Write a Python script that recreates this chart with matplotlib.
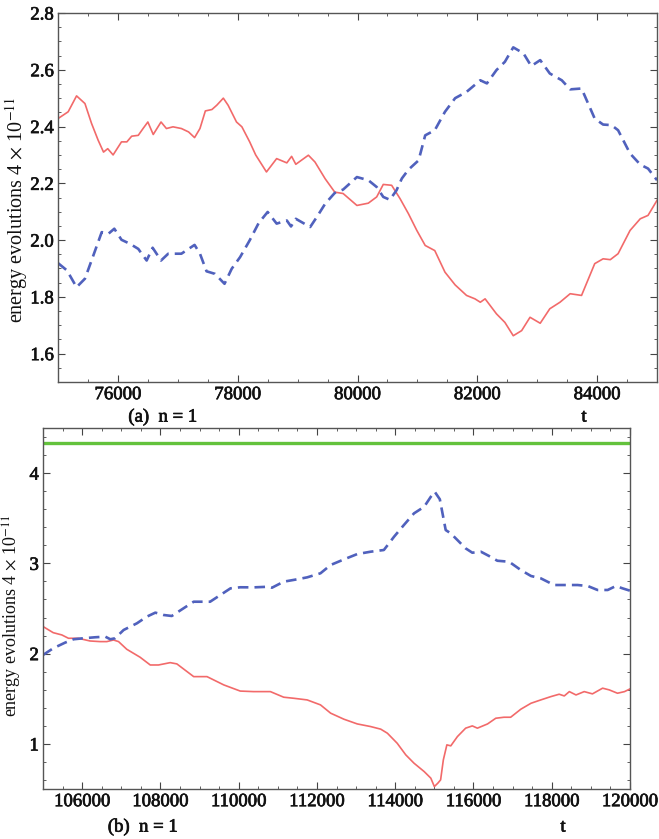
import matplotlib.pyplot as plt
import matplotlib.patheffects as pe
from matplotlib.ticker import MultipleLocator, FormatStrFormatter

plt.rcParams['font.family'] = ['Liberation Serif', 'DejaVu Serif']
plt.rcParams['mathtext.fontset'] = 'stix'

# panel (a): t in [75000, 85000]
t_a_red = [75000, 75170, 75310, 75450, 75560, 75670, 75760, 75830, 75920, 76060,
           76150, 76230, 76340, 76420, 76500, 76590, 76720, 76810, 76920, 77060,
           77180, 77280, 77370, 77460, 77570, 77650, 77760, 77840, 77980, 78070,
           78200, 78300, 78480, 78650, 78820, 78900, 78970, 79180, 79290, 79460,
           79620, 79760, 79990, 80180, 80320, 80430, 80570, 80710, 80850, 80990,
           81130, 81290, 81460, 81630, 81820, 81960, 82050, 82130, 82320, 82460,
           82600, 82740, 82880, 83050, 83210, 83380, 83550, 83740, 83960, 84100,
           84220, 84350, 84550, 84720, 84850, 85000]
e_a_red = [2.428, 2.452, 2.508, 2.481, 2.411, 2.352, 2.310, 2.322, 2.300, 2.346,
           2.346, 2.366, 2.369, 2.393, 2.416, 2.372, 2.416, 2.393, 2.399, 2.393,
           2.381, 2.361, 2.393, 2.455, 2.460, 2.475, 2.500, 2.475, 2.416, 2.399,
           2.346, 2.300, 2.240, 2.287, 2.272, 2.295, 2.267, 2.299, 2.275, 2.216,
           2.169, 2.164, 2.122, 2.130, 2.152, 2.196, 2.193, 2.146, 2.093, 2.034,
           1.981, 1.963, 1.887, 1.842, 1.805, 1.793, 1.781, 1.793, 1.740, 1.710,
           1.663, 1.681, 1.728, 1.707, 1.758, 1.781, 1.811, 1.805, 1.917, 1.934,
           1.931, 1.952, 2.034, 2.075, 2.087, 2.140]

t_a_blue = [75000, 75150, 75310, 75450, 75560, 75730, 75840, 75940, 76060, 76200,
            76340, 76480, 76580, 76720, 76840, 77060, 77280, 77370, 77480, 77620,
            77780, 77900, 78040, 78200, 78350, 78500, 78650, 78820, 78890, 78970,
            79210, 79320, 79460, 79620, 79760, 79990, 80180, 80320, 80430, 80540,
            80650, 80740, 80850, 81020, 81130, 81290, 81460, 81630, 81820, 82050,
            82160, 82320, 82460, 82600, 82770, 82900, 83050, 83210, 83410, 83550,
            83740, 83960, 84100, 84240, 84350, 84550, 84720, 84850, 85000]
e_a_blue = [1.919, 1.893, 1.834, 1.864, 1.928, 2.028, 2.022, 2.040, 2.001, 1.987,
            1.969, 1.928, 1.973, 1.928, 1.952, 1.952, 1.983, 1.952, 1.890, 1.881,
            1.846, 1.899, 1.940, 1.999, 2.060, 2.099, 2.058, 2.069, 2.048, 2.075,
            2.046, 2.081, 2.128, 2.166, 2.178, 2.222, 2.211, 2.187, 2.152, 2.142,
            2.175, 2.217, 2.248, 2.281, 2.369, 2.387, 2.452, 2.500, 2.522, 2.563,
            2.552, 2.599, 2.628, 2.679, 2.658, 2.613, 2.634, 2.587, 2.563, 2.531,
            2.534, 2.428, 2.407, 2.405, 2.387, 2.305, 2.266, 2.252, 2.211]

# panel (b): t in [105000, 120000]
t_b_red = [105000, 105260, 105480, 105650, 105900, 106200, 106460, 106630, 106800, 106930,
           107140, 107480, 107740, 107950, 108250, 108420, 108850, 109190, 109620, 110040,
           110380, 110810, 111150, 111410, 111750, 112090, 112350, 112690, 113030, 113370,
           113630, 113800, 114050, 114270, 114480, 114740, 114910, 115000, 115090, 115160,
           115230, 115320, 115420, 115590, 115800, 115970, 116100, 116360, 116570, 116780,
           116950, 117210, 117470, 117720, 117980, 118190, 118320, 118450, 118620, 118830,
           119040, 119300, 119470, 119680, 119860, 120000]
e_b_red = [2.300, 2.232, 2.207, 2.170, 2.170, 2.140, 2.133, 2.133, 2.151, 2.133,
           2.048, 1.960, 1.874, 1.874, 1.900, 1.886, 1.745, 1.745, 1.653, 1.585,
           1.579, 1.579, 1.517, 1.505, 1.487, 1.432, 1.340, 1.273, 1.221, 1.192,
           1.163, 1.118, 1.007, 0.878, 0.786, 0.693, 0.620, 0.527, 0.565, 0.601,
           0.823, 0.989, 0.978, 1.081, 1.174, 1.199, 1.174, 1.221, 1.284, 1.295,
           1.295, 1.384, 1.450, 1.487, 1.524, 1.550, 1.531, 1.579, 1.542, 1.579,
           1.554, 1.617, 1.598, 1.561, 1.579, 1.609]

t_b_blue = [105000, 105260, 105560, 105780, 106030, 106330, 106590, 106720, 106840, 107060,
            107400, 107650, 107870, 108080, 108290, 108590, 108850, 109270, 109530, 109790,
            110040, 110380, 110770, 110850, 111150, 111490, 111750, 112090, 112350, 112690,
            113030, 113370, 113710, 113970, 114220, 114480, 114740, 114910, 115010, 115140,
            115290, 115420, 115590, 115800, 115970, 116190, 116400, 116610, 116910, 117210,
            117470, 117720, 118060, 118450, 118660, 118920, 119170, 119430, 119640, 119810,
            120000]
e_b_blue = [1.985, 2.059, 2.121, 2.159, 2.170, 2.181, 2.188, 2.159, 2.170, 2.262,
            2.336, 2.409, 2.454, 2.428, 2.417, 2.502, 2.575, 2.575, 2.649, 2.723,
            2.735, 2.734, 2.741, 2.730, 2.797, 2.823, 2.845, 2.890, 2.982, 3.044,
            3.103, 3.129, 3.148, 3.295, 3.424, 3.554, 3.627, 3.738, 3.793, 3.710,
            3.369, 3.332, 3.258, 3.166, 3.118, 3.129, 3.081, 3.029, 3.018, 2.926,
            2.860, 2.834, 2.760, 2.760, 2.760, 2.749, 2.705, 2.705, 2.749, 2.723,
            2.697]

e_b_total = 4.33

RED = '#f26a6a'
BLUE = '#5061bd'
GREEN = '#63c23c'
YLABEL = r'energy evolutions 4 $\times$ 10$^{-11}$'
# slightly heavier glyphs, the figure's text is set dark and thick
BOLDISH = [pe.withStroke(linewidth=0.5, foreground='#111111')]


def style_axes(ax, xmaj, xmin, ymaj, ymin, yfmt):
    ax.xaxis.set_major_locator(MultipleLocator(xmaj))
    ax.xaxis.set_minor_locator(MultipleLocator(xmin))
    ax.yaxis.set_major_locator(MultipleLocator(ymaj))
    ax.yaxis.set_minor_locator(MultipleLocator(ymin))
    ax.xaxis.set_major_formatter(FormatStrFormatter('%d'))
    ax.yaxis.set_major_formatter(FormatStrFormatter(yfmt))
    ax.tick_params(which='both', direction='in', top=True, right=True,
                   color='#444444', labelsize=13.5, labelcolor='#111111', pad=3)
    ax.tick_params(which='major', length=5, width=0.8)
    ax.tick_params(which='minor', length=2.5, width=0.6)
    for lab in ax.get_xticklabels() + ax.get_yticklabels():
        lab.set_path_effects(BOLDISH)
    for s in ax.spines.values():
        s.set_color('#555555')
        s.set_linewidth(1.0)


def label(x, y, s, size, stroke=True, **kw):
    fig.text(x / 659, 1 - y / 839, s, ha='center', va='center', fontsize=size,
             color='#111111', path_effects=BOLDISH if stroke else None, **kw)


fig = plt.figure(figsize=(6.59, 8.39), dpi=100)

ax1 = fig.add_axes([0.088, 0.5447, 0.909, 0.4398])
ax1.plot(t_a_red, e_a_red, color=RED, lw=1.2)
ax1.plot(t_a_blue, e_a_blue, color=BLUE, lw=1.9, dashes=(4, 2.3))
ax1.set_xlim(75000, 85000)
ax1.set_ylim(1.5, 2.8)
style_axes(ax1, 2000, 500, 0.2, 0.05, '%.1f')
label(17, 210, YLABEL, 14.5, stroke=False, rotation=90)
label(163, 417, '(a)  n = 1', 13.5)
label(584, 417, 't', 13.5)

ax2 = fig.add_axes([0.0653, 0.0596, 0.8907, 0.4303])
ax2.axhline(e_b_total, color=GREEN, lw=2.4)
ax2.plot(t_b_red, e_b_red, color=RED, lw=1.2)
ax2.plot(t_b_blue, e_b_blue, color=BLUE, lw=1.9, dashes=(4, 2.3))
ax2.set_xlim(105000, 120000)
ax2.set_ylim(0.5, 4.5)
style_axes(ax2, 2000, 500, 1, 0.2, '%d')
label(12, 616, YLABEL, 13, stroke=False, rotation=90)
label(143, 827, '(b)  n = 1', 13.5)
label(563, 827, 't', 13.5)

fig.savefig('out.png', dpi=100)
